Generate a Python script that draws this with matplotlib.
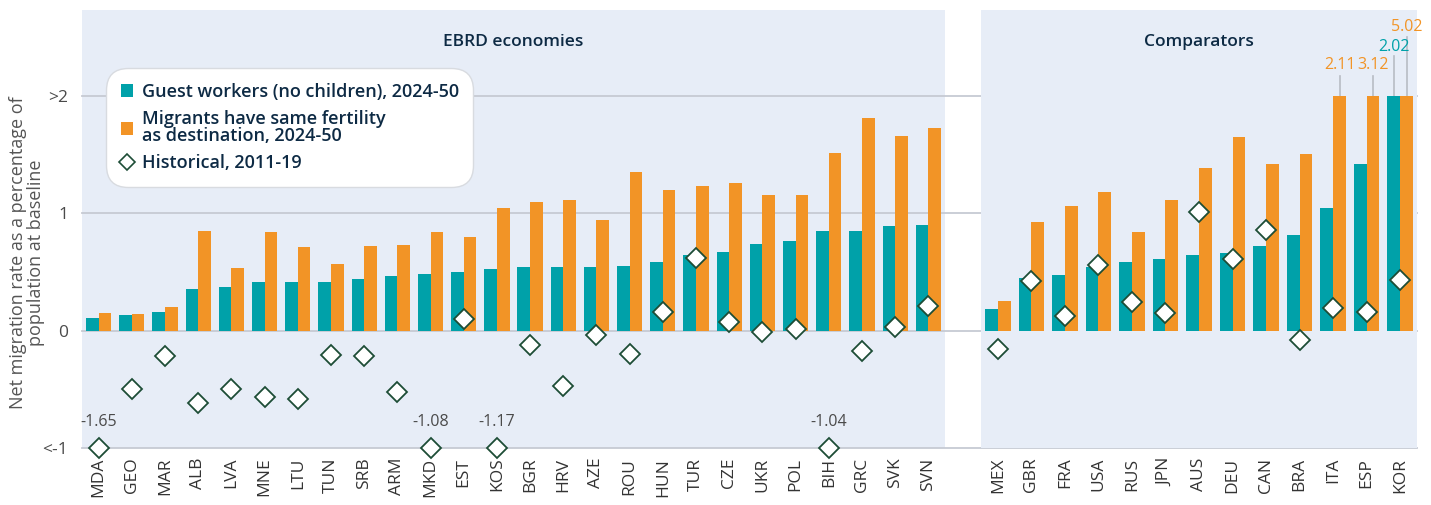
import numpy as np
import matplotlib.pyplot as plt
from matplotlib.patches import Patch
from matplotlib.lines import Line2D

plt.rcParams['font.family'] = ['Open Sans', 'DejaVu Sans']

# -----------------------------
# Data
# -----------------------------
ebrd = ['MDA', 'GEO', 'MAR', 'ALB', 'LVA', 'MNE', 'LTU', 'TUN', 'SRB', 'ARM',
        'MKD', 'EST', 'KOS', 'BGR', 'HRV', 'AZE', 'ROU', 'HUN', 'TUR', 'CZE',
        'UKR', 'POL', 'BIH', 'GRC', 'SVK', 'SVN']
ebrd_guest = [0.11, 0.13, 0.16, 0.35, 0.37, 0.41, 0.41, 0.41, 0.44, 0.46,
              0.48, 0.50, 0.52, 0.54, 0.54, 0.54, 0.55, 0.58, 0.64, 0.67,
              0.74, 0.76, 0.85, 0.85, 0.89, 0.90]
ebrd_fert = [0.15, 0.14, 0.20, 0.85, 0.53, 0.84, 0.71, 0.57, 0.72, 0.73,
             0.84, 0.80, 1.04, 1.09, 1.11, 0.94, 1.35, 1.20, 1.23, 1.26,
             1.15, 1.15, 1.51, 1.81, 1.66, 1.72]
ebrd_hist = [-1.65, -0.50, -0.22, -0.62, -0.50, -0.57, -0.58, -0.21, -0.22, -0.52,
             -1.08, 0.10, -1.17, -0.12, -0.47, -0.04, -0.20, 0.16, 0.62, 0.07,
             -0.01, 0.01, -1.04, -0.17, 0.03, 0.21]

comp = ['MEX', 'GBR', 'FRA', 'USA', 'RUS', 'JPN', 'AUS', 'DEU', 'CAN', 'BRA',
        'ITA', 'ESP', 'KOR']
comp_guest = [0.18, 0.45, 0.47, 0.54, 0.58, 0.61, 0.64, 0.66, 0.72, 0.81,
              1.04, 1.42, 2.02]
comp_fert = [0.25, 0.92, 1.06, 1.18, 0.84, 1.11, 1.38, 1.65, 1.42, 1.50,
             2.11, 3.12, 5.02]
comp_hist = [-0.16, 0.42, 0.12, 0.56, 0.24, 0.15, 1.01, 0.61, 0.86, -0.08,
             0.19, 0.16, 0.43]

# -----------------------------
# Style
# -----------------------------
teal = '#00a1a9'
orange = '#f29426'
navy = '#0d2a44'
grey_txt = '#4a4a4a'
bg = '#e7edf7'
grid_c = '#c6cad3'
ymin, ymax = -1, 2
bw = 0.38

fig = plt.figure(figsize=(14.31, 5.05), dpi=100)
W, H = 1431, 505
top, bot = 10, 448
ax1 = fig.add_axes([82 / W, (H - bot) / H, (945 - 82) / W, (bot - top) / H])
ax2 = fig.add_axes([981 / W, (H - bot) / H, (1417 - 981) / W, (bot - top) / H])

y_top = ymax + (95.7 - top) / 117.6


def draw_panel(ax, names, guest, fert, hist, title):
    x = np.arange(len(names))
    g = np.clip(guest, ymin, ymax)
    f = np.clip(fert, ymin, ymax)
    h = np.clip(hist, ymin, ymax)
    ax.set_facecolor(bg)
    ax.bar(x - bw / 2, g, bw, color=teal, zorder=3)
    ax.bar(x + bw / 2, f, bw, color=orange, zorder=3)
    ax.plot(x, h, 'D', ms=10, mfc='white', mec='#1d4d36', mew=1.3,
            zorder=5, clip_on=False)
    ax.set_xlim(-0.5, len(names) - 0.5)
    ax.set_ylim(ymin, y_top)
    ax.set_xticks(x)
    ax.set_xticklabels(names, rotation=90, fontsize=12.5, color='#333333')
    ax.tick_params(axis='x', length=0, pad=7)
    for s in ax.spines.values():
        s.set_visible(False)
    ax.text(0.5, 0.927, title, transform=ax.transAxes, ha='center',
            va='center', fontsize=12.5, fontweight='semibold', color=navy)
    # labels for historical values below axis floor
    for xi, v in zip(x, hist):
        if v < ymin:
            ax.text(xi, ymin + 0.22, f'{v:.2f}', ha='center', va='center',
                    fontsize=11.5, color=grey_txt, zorder=6)
    return x


x1 = draw_panel(ax1, ebrd, ebrd_guest, ebrd_fert, ebrd_hist, 'EBRD economies')
x2 = draw_panel(ax2, comp, comp_guest, comp_fert, comp_hist, 'Comparators')

# horizontal lines spanning both panels
span = (1417 - 82) / (945 - 82)
for yv in [-1, 0, 1, 2]:
    ax1.axhline(yv, xmin=0, xmax=span, color=grid_c, lw=1.3, zorder=2,
                clip_on=False)

ax1.set_yticks([-1, 0, 1, 2])
ax1.set_yticklabels(['<-1', '0', '1', '>2'], fontsize=12.5, color=grey_txt)
ax1.tick_params(axis='y', length=0, pad=10)
ax2.set_yticks([])

ax1.set_ylabel('Net migration rate as a percentage of\npopulation at baseline',
               fontsize=13, color='#555555', linespacing=1.0)
ax1.yaxis.set_label_coords(-0.043, 0.445)

# labels for bars above the axis ceiling (comparators)
lead = {('g', 12): (0.34, 0.41), ('f', 10): (0.17, 0.26),
        ('f', 11): (0.17, 0.26), ('f', 12): (0.50, 0.58)}
for (kind, i), (ltop, ty) in lead.items():
    if kind == 'g':
        xi, v, c = x2[i] - bw / 2, comp_guest[i], teal
    else:
        xi, v, c = x2[i] + bw / 2, comp_fert[i], orange
    ax2.plot([xi, xi], [ymax, ymax + ltop], color='#b8bcc4', lw=1.2,
             zorder=2, clip_on=False)
    ax2.text(xi, ymax + ty, f'{v:.2f}', ha='center', va='center',
             fontsize=11.5, color=c)

# legend
handles = [Patch(facecolor=teal, edgecolor='none'),
           Patch(facecolor=orange, edgecolor='none'),
           Line2D([], [], marker='D', ls='none', ms=8, mfc='white',
                  mec='#1d4d36', mew=1.2)]
labels = ['Guest workers (no children), 2024-50',
          'Migrants have same fertility\nas destination, 2024-50',
          'Historical, 2011-19']
leg = ax1.legend(handles, labels, loc='upper left',
                 bbox_to_anchor=(110 / W, 1 - 72 / H),
                 bbox_transform=fig.transFigure, frameon=True, fancybox=True,
                 handlelength=0.7, handleheight=0.7, handletextpad=0.45,
                 labelspacing=0.5, borderpad=0.6, borderaxespad=0,
                 prop={'weight': 'semibold', 'size': 13})
leg.get_frame().set_facecolor('white')
leg.get_frame().set_edgecolor('#d8dbe0')
leg.get_frame().set_alpha(1)
leg.get_frame().set_boxstyle('round,pad=0.2,rounding_size=1.2')
leg.set_zorder(10)
for t in leg.get_texts():
    t.set_color(navy)
    t.set_linespacing(0.95)

fig.savefig('out.png', dpi=100)
